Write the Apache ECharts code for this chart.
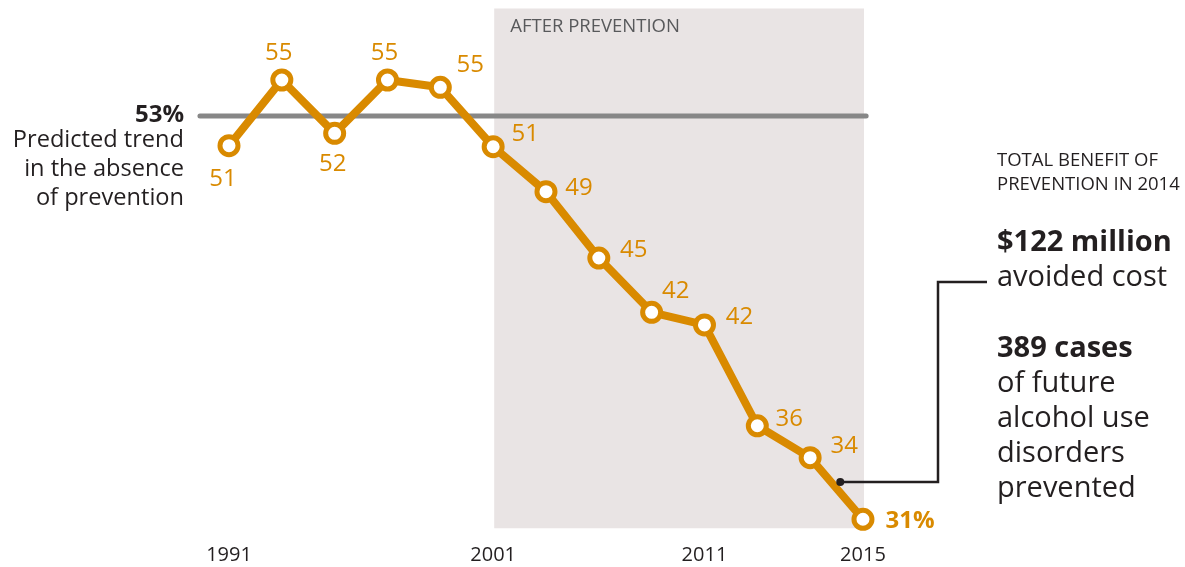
<!DOCTYPE html>
<html>
<head>
<meta charset="utf-8">
<script src="https://cdn.jsdelivr.net/npm/echarts@6/dist/echarts.min.js"></script>
<style>
html,body{margin:0;padding:0;background:#fff;}
#chart{width:1185px;height:567px;}
</style>
</head>
<body>
<div id="chart"></div>
<script>
// Tick labels as shown under the axis, one slot per survey point
const categories = ['1991','','','','','2001','','','','2011','','','2015'];
// Percent values
const values = [51.42, 55.0, 52.09, 55.0, 54.6, 51.36, 48.91, 45.29, 42.33, 41.64, 36.14, 34.40, 31.04];
// Predicted trend in absence of prevention
const predicted = 53.04;
const predictedRange = [-0.55, 12.06];
// After prevention shaded span (point index) and vertical extent (value)
const afterRange = [5.02, 12.02];
const afterValueRange = [30.55, 58.9];
// Connector anchor on the line
const anchor = [11.57, 33.07];

// label offsets (style, not data)
const labelOffsets = [[-6,34],[-3,-27],[-2,31],[-3,-27],[30,-22],[32,-13],[33,-3],[35,-8],[24,-21],[35,-8],[32,-7],[34,-12],[47,2]];

const ORANGE = '#d98a00';
const TEXT = '#231f20';
const FONT = 'Open Sans';

const chart = echarts.init(document.getElementById('chart'));

const seriesData = values.map((v, i) => {
  const last = i === values.length - 1;
  return {
    value: [i, v],
    label: {
      show: true,
      position: 'inside',
      offset: labelOffsets[i],
      align: 'center',
      verticalAlign: 'middle',
      formatter: last ? Math.round(v) + '%' : String(Math.round(v)),
      fontWeight: last ? 'bold' : 'normal',
      fontSize: 24,
      color: ORANGE,
      fontFamily: FONT
    }
  };
});

const option = {
  animation: false,
  grid: { left: 176.17, right: 269.2, top: 6.67, bottom: 28.67 },
  xAxis: {
    type: 'value', min: -1, max: 13,
    axisLine: { show: false }, axisTick: { show: false }, splitLine: { show: false },
    axisLabel: {
      customValues: categories.map((c, i) => c ? i : null).filter(v => v !== null),
      formatter: v => categories[Math.round(v)] || '',
      fontSize: 20, color: TEXT, fontFamily: FONT, margin: 7
    }
  },
  yAxis: {
    type: 'value', min: 30, max: 59, show: false, splitLine: { show: false }
  },
  series: [
    {
      type: 'line',
      z: 1,
      silent: true,
      symbol: 'none',
      data: predictedRange.map(x => [x, predicted]),
      lineStyle: { color: '#878787', width: 5, cap: 'round' },
      markArea: {
        silent: true,
        itemStyle: { color: '#e9e4e4' },
        label: {
          show: true, position: 'insideTopLeft', offset: [11, 4],
          color: '#58595b', fontSize: 18.5, fontFamily: FONT
        },
        data: [[
          { name: 'AFTER PREVENTION', coord: [afterRange[0], afterValueRange[1]] },
          { coord: [afterRange[1], afterValueRange[0]] }
        ]]
      }
    },
    {
      type: 'line',
      z: 3,
      data: seriesData,
      symbol: 'circle',
      symbolSize: 18,
      lineStyle: { color: ORANGE, width: 8, join: 'round' },
      itemStyle: { color: '#fff', borderColor: ORANGE, borderWidth: 5 }
    }
  ]
};
chart.setOption(option);

const p = chart.convertToPixel({ gridIndex: 0 }, anchor);
const elbowX = 938, topY = 282, endX = 987;

chart.setOption({
  graphic: [
    {
      type: 'polyline', z: 10,
      shape: { points: [p, [elbowX, p[1]], [elbowX, topY], [endX, topY]] },
      style: { stroke: TEXT, lineWidth: 2.5, fill: null }
    },
    { type: 'circle', z: 11, shape: { cx: p[0], cy: p[1], r: 4 }, style: { fill: TEXT } },
    {
      type: 'text', x: 184, y: 115, z: 10,
      style: { text: '53%', font: 'bold 24px "Open Sans"', fill: TEXT, align: 'right', verticalAlign: 'middle' }
    },
    {
      type: 'text', x: 184, y: 126.3, z: 10,
      style: { text: 'Predicted trend\nin the absence\nof prevention', font: '23.6px "Open Sans"', lineHeight: 28.8, fill: TEXT, align: 'right', verticalAlign: 'top' }
    },
    {
      type: 'text', x: 997, y: 148.5, z: 10,
      style: { text: 'TOTAL BENEFIT OF\nPREVENTION IN 2014', font: '18.5px "Open Sans"', lineHeight: 24.3, fill: TEXT, align: 'left', verticalAlign: 'top' }
    },
    {
      type: 'text', x: 997, y: 225.2, z: 10,
      style: {
        text: '{b|$122 million}\n{n|avoided cost}',
        rich: {
          b: { fontFamily: FONT, fontWeight: 'bold', fontSize: 29, lineHeight: 35, fill: TEXT, color: TEXT },
          n: { fontFamily: FONT, fontSize: 29, lineHeight: 35, fill: TEXT, color: TEXT }
        },
        align: 'left', verticalAlign: 'top'
      }
    },
    {
      type: 'text', x: 997, y: 330.8, z: 10,
      style: {
        text: '{b|389 cases}\n{n|of future}\n{n|alcohol use}\n{n|disorders}\n{n|prevented}',
        rich: {
          b: { fontFamily: FONT, fontWeight: 'bold', fontSize: 29, lineHeight: 35, fill: TEXT, color: TEXT },
          n: { fontFamily: FONT, fontSize: 29, lineHeight: 35, fill: TEXT, color: TEXT }
        },
        align: 'left', verticalAlign: 'top'
      }
    }
  ]
});
</script>
</body>
</html>
